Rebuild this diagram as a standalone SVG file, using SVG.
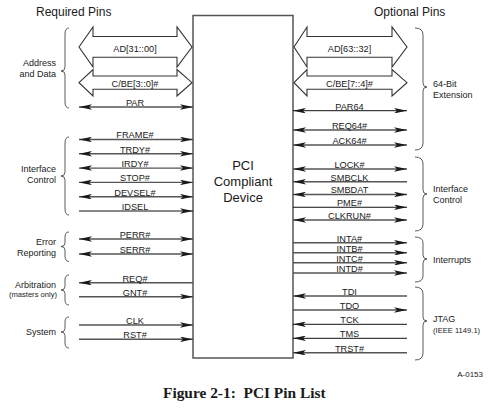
<svg xmlns="http://www.w3.org/2000/svg" width="496" height="420" viewBox="0 0 496 420">
<style>
text{font-family:"Liberation Sans",Arial,sans-serif;fill:#1a1a1a}
.hdr{font-size:12px}
.pin{font-size:9.2px;text-anchor:middle}
.grp{font-size:9px}
.gl{text-anchor:end}
.sm{font-size:7.6px}
.dev{font-size:13px;text-anchor:middle}
.cap{font-family:"Liberation Serif","Times New Roman",serif;font-weight:bold;font-size:15.4px;white-space:pre}
.ln{stroke:#555;stroke-width:1.4;fill:none}
.th{stroke:#111;stroke-width:1;fill:none}
.fat{fill:#fff;stroke:#333;stroke-width:1.1}
.br{fill:none;stroke:#333;stroke-width:0.8}
.box{fill:#fff;stroke:#555;stroke-width:1.5}
</style>
<defs>
<marker id="ah" viewBox="0 0 13 5.5" markerWidth="13" markerHeight="5.5" refX="13" refY="2.75" orient="auto-start-reverse" markerUnits="userSpaceOnUse">
<path d="M0,0 L13,2.75 L0,5.5 L3,2.75 z" fill="#1a1a1a"/>
</marker>
</defs>
<rect width="496" height="420" fill="#fff"/>
<text class="hdr" x="36" y="15.5">Required Pins</text>
<text class="hdr" x="374" y="15.5">Optional Pins</text>
<g id="device">
<rect class="box" x="193" y="15.5" width="100" height="342.5"/>
<text class="dev" x="243" y="170">PCI</text>
<text class="dev" x="243" y="186">Compliant</text>
<text class="dev" x="243" y="202">Device</text>
</g>
<g id="connectors">
<polygon class="fat" points="79,47 93,27 93,36.5 177,36.5 177,27 192,47 177,67 177,57.3 93,57.3 93,67"/>
<polygon class="fat" points="79,82.7 93,69.5 93,76 177,76 177,69.5 192,82.7 177,96 177,89.3 93,89.3 93,96"/>
<polygon class="fat" points="294,47 307,27 307,36.5 392,36.5 392,27 407,47 392,67 392,57.3 307,57.3 307,67"/>
<polygon class="fat" points="294,82.7 307,69.5 307,76 392,76 392,69.5 407,82.7 392,96 392,89.3 307,89.3 307,96"/>
<line class="ln" x1="79" y1="107" x2="193" y2="107" marker-start="url(#ah)" marker-end="url(#ah)"/>
<line class="ln" x1="79" y1="139.5" x2="193" y2="139.5" marker-start="url(#ah)" marker-end="url(#ah)"/>
<line class="ln" x1="79" y1="153.8" x2="193" y2="153.8" marker-start="url(#ah)" marker-end="url(#ah)"/>
<line class="ln" x1="79" y1="168.1" x2="193" y2="168.1" marker-start="url(#ah)" marker-end="url(#ah)"/>
<line class="ln" x1="79" y1="182.4" x2="193" y2="182.4" marker-start="url(#ah)" marker-end="url(#ah)"/>
<line class="ln" x1="79" y1="196.7" x2="193" y2="196.7" marker-start="url(#ah)" marker-end="url(#ah)"/>
<line class="th" x1="79" y1="211" x2="193" y2="211" marker-end="url(#ah)"/>
<line class="ln" x1="79" y1="239" x2="193" y2="239" marker-start="url(#ah)" marker-end="url(#ah)"/>
<line class="ln" x1="79" y1="254" x2="193" y2="254" marker-start="url(#ah)" marker-end="url(#ah)"/>
<line class="ln" x1="193" y1="282.7" x2="79" y2="282.7" marker-end="url(#ah)"/>
<line class="ln" x1="79" y1="296.7" x2="193" y2="296.7" marker-end="url(#ah)"/>
<line class="ln" x1="79" y1="325" x2="193" y2="325" marker-end="url(#ah)"/>
<line class="ln" x1="79" y1="339.3" x2="193" y2="339.3" marker-end="url(#ah)"/>
<line class="th" x1="293" y1="110.7" x2="407" y2="110.7" marker-start="url(#ah)" marker-end="url(#ah)"/>
<line class="ln" x1="293" y1="130" x2="407" y2="130" marker-start="url(#ah)" marker-end="url(#ah)"/>
<line class="ln" x1="293" y1="145" x2="407" y2="145" marker-start="url(#ah)" marker-end="url(#ah)"/>
<line class="ln" x1="293" y1="169" x2="407" y2="169" marker-start="url(#ah)" marker-end="url(#ah)"/>
<line class="ln" x1="407" y1="181.75" x2="293" y2="181.75" marker-end="url(#ah)"/>
<line class="ln" x1="293" y1="194.5" x2="407" y2="194.5" marker-start="url(#ah)" marker-end="url(#ah)"/>
<line class="th" x1="293" y1="207.25" x2="407" y2="207.25" marker-end="url(#ah)"/>
<line class="ln" x1="293" y1="220" x2="407" y2="220" marker-start="url(#ah)" marker-end="url(#ah)"/>
<line class="ln" x1="293" y1="242.7" x2="407" y2="242.7" marker-end="url(#ah)"/>
<line class="ln" x1="293" y1="252.7" x2="407" y2="252.7" marker-end="url(#ah)"/>
<line class="ln" x1="293" y1="262.7" x2="407" y2="262.7" marker-end="url(#ah)"/>
<line class="ln" x1="293" y1="273" x2="407" y2="273" marker-end="url(#ah)"/>
<line class="ln" x1="407" y1="296" x2="293" y2="296" marker-end="url(#ah)"/>
<line class="ln" x1="293" y1="310" x2="407" y2="310" marker-end="url(#ah)"/>
<line class="th" x1="407" y1="324.3" x2="293" y2="324.3" marker-end="url(#ah)"/>
<line class="th" x1="407" y1="338.3" x2="293" y2="338.3" marker-end="url(#ah)"/>
<line class="ln" x1="407" y1="352.7" x2="293" y2="352.7" marker-end="url(#ah)"/>
</g>
<g id="pin-labels-left">
<text class="pin" x="135" y="52">AD[31::00]</text>
<text class="pin" x="135" y="86.7">C/BE[3::0]#</text>
<text class="pin" x="135" y="106">PAR</text>
<text class="pin" x="135" y="138.3">FRAME#</text>
<text class="pin" x="135" y="152.6">TRDY#</text>
<text class="pin" x="135" y="166.9">IRDY#</text>
<text class="pin" x="135" y="181.2">STOP#</text>
<text class="pin" x="135" y="195.5">DEVSEL#</text>
<text class="pin" x="135" y="209.8">IDSEL</text>
<text class="pin" x="135" y="237.8">PERR#</text>
<text class="pin" x="135" y="252.8">SERR#</text>
<text class="pin" x="135" y="281.5">REQ#</text>
<text class="pin" x="135" y="295.5">GNT#</text>
<text class="pin" x="135" y="323.8">CLK</text>
<text class="pin" x="135" y="338.1">RST#</text>
</g>
<g id="pin-labels-right">
<text class="pin" x="349.5" y="52">AD[63::32]</text>
<text class="pin" x="349.5" y="86.7">C/BE[7::4]#</text>
<text class="pin" x="349.5" y="109.5">PAR64</text>
<text class="pin" x="349.5" y="128.8">REQ64#</text>
<text class="pin" x="349.5" y="143.8">ACK64#</text>
<text class="pin" x="349.5" y="167.8">LOCK#</text>
<text class="pin" x="349.5" y="180.5">SMBCLK</text>
<text class="pin" x="349.5" y="193.3">SMBDAT</text>
<text class="pin" x="349.5" y="206">PME#</text>
<text class="pin" x="349.5" y="218.8">CLKRUN#</text>
<text class="pin" x="349.5" y="241.5">INTA#</text>
<text class="pin" x="349.5" y="251.5">INTB#</text>
<text class="pin" x="349.5" y="261.5">INTC#</text>
<text class="pin" x="349.5" y="271.8">INTD#</text>
<text class="pin" x="349.5" y="294.8">TDI</text>
<text class="pin" x="349.5" y="308.8">TDO</text>
<text class="pin" x="349.5" y="323.1">TCK</text>
<text class="pin" x="349.5" y="337.1">TMS</text>
<text class="pin" x="349.5" y="351.5">TRST#</text>
</g>
<g id="groups-left">
<path class="br" d="M69,28 Q65,28 65,34 L65,67 Q65,71 61,71 Q65,71 65,75 L65,102 Q65,108 69,108"/>
<text class="grp gl" x="56" y="65.5">Address</text>
<text class="grp gl" x="56" y="77">and Data</text>
<path class="br" d="M69,137 Q65,137 65,143 L65,172 Q65,176 61,176 Q65,176 65,180 L65,209 Q65,215 69,215"/>
<text class="grp gl" x="56" y="172">Interface</text>
<text class="grp gl" x="56" y="183">Control</text>
<path class="br" d="M69,232 Q65,232 65,237 L65,243 Q65,246.5 61,246.5 Q65,246.5 65,250 L65,256 Q65,261.5 69,261.5"/>
<text class="grp gl" x="56" y="245">Error</text>
<text class="grp gl" x="56" y="256">Reporting</text>
<path class="br" d="M69,275 Q65,275 65,280 L65,286.5 Q65,290 61,290 Q65,290 65,293.5 L65,300 Q65,305 69,305"/>
<text class="grp gl" x="56" y="288">Arbitration</text>
<text class="grp gl sm" x="57" y="297">(masters only)</text>
<path class="br" d="M69,317 Q65,317 65,322 L65,328.5 Q65,332 61,332 Q65,332 65,335.5 L65,343 Q65,348 69,348"/>
<text class="grp gl" x="56" y="335">System</text>
</g>
<g id="groups-right">
<path class="br" d="M415,28 Q423,28 423,35 L423,83 Q423,87 427,87 Q423,87 423,91 L423,143 Q423,150 415,150"/>
<text class="grp" x="433" y="87">64-Bit</text>
<text class="grp" x="433" y="98">Extension</text>
<path class="br" d="M415,157 Q423,157 423,164 L423,190 Q423,194 427,194 Q423,194 423,198 L423,224 Q423,231 415,231"/>
<text class="grp" x="433" y="191.5">Interface</text>
<text class="grp" x="433" y="202.5">Control</text>
<path class="br" d="M415,237 Q423,237 423,243 L423,255 Q423,259 427,259 Q423,259 423,263 L423,276 Q423,282 415,282"/>
<text class="grp" x="433" y="263">Interrupts</text>
<path class="br" d="M415,287 Q423,287 423,294 L423,317 Q423,321 427,321 Q423,321 423,325 L423,353 Q423,360 415,360"/>
<text class="grp" x="433" y="321.5">JTAG</text>
<text class="grp sm" x="433" y="333">(IEEE 1149.1)</text>
</g>
<text class="sm" x="483" y="377" text-anchor="end" style="font-size:8px">A-0153</text>
<text class="cap" x="163" y="397.5">Figure 2-1:  PCI Pin List</text>
</svg>
